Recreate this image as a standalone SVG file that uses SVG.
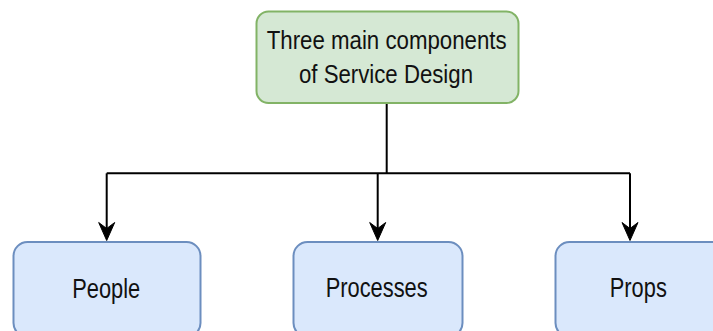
<svg xmlns="http://www.w3.org/2000/svg" width="713" height="331" viewBox="0 0 713 331">
  <style>
    .root { fill: #d5e8d4; stroke: #82b366; stroke-width: 2; }
    .leaf { fill: #dae8fc; stroke: #6c8ebf; stroke-width: 2; }
    .lbl { font-family: "Liberation Sans", Arial, sans-serif; fill: #111; text-anchor: middle; }
    .wire { fill: none; stroke: #000; stroke-width: 2; }
    .head { fill: #000; stroke: #000; stroke-width: 1; stroke-linejoin: miter; }
  </style>
  <defs>
    <path id="arrowhead" class="head" d="M0,0 L-8,-18 L0,-12 L8,-18 Z"/>
  </defs>
  <rect width="713" height="331" fill="#ffffff"/>

  <!-- connectors -->
  <g id="connectors">
    <path class="wire" d="M386.7,103 V173.3"/>
    <path class="wire" d="M106.7,173.3 H630"/>
    <path class="wire" d="M106.7,173.3 V230"/>
    <path class="wire" d="M377.7,173.3 V230"/>
    <path class="wire" d="M630,173.3 V230"/>
    <use href="#arrowhead" x="106.7" y="240.5"/>
    <use href="#arrowhead" x="377.7" y="240.5"/>
    <use href="#arrowhead" x="630" y="240.5"/>
  </g>

  <!-- top node -->
  <g id="node-service-design">
    <rect class="root" x="256.5" y="11.5" width="262" height="91.5" rx="12" ry="12"/>
    <text class="lbl" x="386.7" y="49" font-size="25" textLength="240" lengthAdjust="spacingAndGlyphs">Three main components</text>
    <text class="lbl" x="386" y="82.5" font-size="25" textLength="174" lengthAdjust="spacingAndGlyphs">of Service Design</text>
  </g>

  <!-- bottom nodes -->
  <g id="node-people">
    <rect class="leaf" x="13.5" y="242" width="187" height="95" rx="14" ry="14"/>
    <text class="lbl" x="106.2" y="297.5" font-size="27" textLength="68" lengthAdjust="spacingAndGlyphs">People</text>
  </g>
  <g id="node-processes">
    <rect class="leaf" x="293.5" y="242" width="169" height="95" rx="14" ry="14"/>
    <text class="lbl" x="376.7" y="297" font-size="27" textLength="102" lengthAdjust="spacingAndGlyphs">Processes</text>
  </g>
  <g id="node-props">
    <rect class="leaf" x="555.5" y="242" width="170" height="95" rx="14" ry="14"/>
    <text class="lbl" x="638.3" y="297" font-size="27" textLength="57" lengthAdjust="spacingAndGlyphs">Props</text>
  </g>
</svg>
